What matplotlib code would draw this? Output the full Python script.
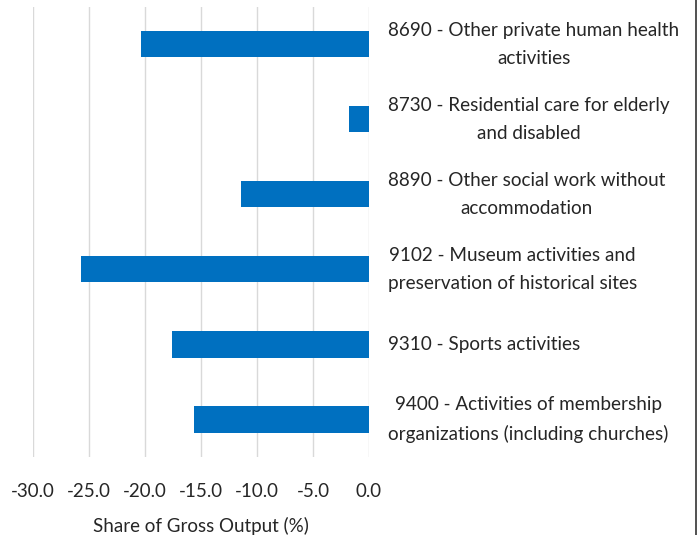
import matplotlib
matplotlib.use("Agg")
import matplotlib.pyplot as plt
from matplotlib.lines import Line2D

categories = [
    "8690 - Other private human health\nactivities",
    "8730 - Residential care for elderly\nand disabled",
    "8890 - Other social work without\naccommodation",
    "9102 - Museum activities and\npreservation of historical sites",
    "9310 - Sports activities",
    "9400 - Activities of membership\norganizations (including churches)",
]
values = [-20.4, -1.8, -11.4, -25.7, -17.6, -15.6]
xticks = [-30, -25, -20, -15, -10, -5, 0]
xlabel = "Share of Gross Output (%)"

W, H = 699, 535
fig = plt.figure(figsize=(W / 100, H / 100), dpi=100)
plt.rcParams['font.family'] = ['Lato', 'DejaVu Sans']
txt = '#262626'

left, right = 33 / W, 369 / W
top, bottom = 6.5 / H, 457 / H
ax = fig.add_axes([left, 1 - bottom, right - left, bottom - top])

n = len(categories)
ypos = list(range(n))
ax.barh(ypos, values, height=0.35, color='#0070C0', zorder=3)
ax.set_ylim(n - 0.5, -0.5)
ax.set_xlim(-30, 0)
ax.set_xticks(xticks)
ax.set_xticklabels([f"{v:.1f}" for v in xticks], fontsize=13.5, color=txt)
ax.tick_params(axis='x', length=0, pad=19)
ax.set_yticks([])
ax.grid(axis='x', color='#d9d9d9', linewidth=1, zorder=0)
for s in ax.spines.values():
    s.set_visible(False)
ax.set_xlabel(xlabel, fontsize=13.5, color=txt, labelpad=12)

xlab = (388 - 33) / (369 - 33)
trans = ax.get_yaxis_transform()
for y, c in zip(ypos, categories):
    ax.text(xlab, y, c, transform=trans, ha='left', va='center',
            multialignment='center',
            fontsize=13.6, color=txt, linespacing=1.78, clip_on=False)

fig.add_artist(Line2D([695.5 / W, 695.5 / W], [0, 1], color='#333333',
                      linewidth=1.2, transform=fig.transFigure))

fig.savefig("out.png", dpi=100, facecolor='white')
